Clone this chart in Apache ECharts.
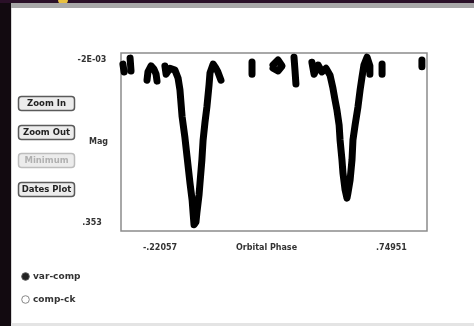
<!DOCTYPE html>
<html><head><meta charset="utf-8">
<script src="https://cdn.jsdelivr.net/npm/echarts@6/dist/echarts.min.js"></script>
<style>html,body{margin:0;padding:0;background:#120a10;}#c{width:474px;height:326px;}</style>
</head><body><div id="c"></div>
<script>
// Light curve samples (null = gap between observing runs)
var phase = [-0.376,-0.371,null,-0.346,-0.342,null,
  -0.275,-0.271,-0.258,-0.246,-0.237,-0.233,null,
  -0.200,-0.195,-0.179,-0.158,-0.145,-0.137,-0.128,-0.116,-0.107,-0.095,-0.086,-0.082,-0.078,-0.070,-0.066,-0.057,-0.053,-0.045,-0.040,-0.032,-0.024,-0.015,-0.011,0.002,0.014,0.022,0.035,null,
  0.165,0.165,null,
  0.253,0.274,0.291,0.274,0.253,null,
  0.341,0.345,0.349,null,
  0.416,0.425,0.442,0.458,0.475,0.492,0.504,0.513,0.521,0.530,0.534,0.542,0.546,0.555,0.563,0.567,0.576,0.584,0.588,0.597,0.609,0.618,0.626,0.634,0.647,0.659,0.659,null,
  0.710,0.710,null,
  0.877,0.877];
var mag = [0.008,0.025,null,-0.005,0.023,null,
  0.043,0.025,0.012,0.019,0.030,0.045,null,
  0.012,0.030,0.017,0.021,0.038,0.064,0.122,0.168,0.210,0.266,0.303,0.331,0.357,0.351,0.331,0.292,0.266,0.216,0.173,0.134,0.101,0.053,0.027,0.008,0.017,0.025,0.043,null,
  0.0035,0.030,null,
  0.010,-0.001,0.012,0.023,0.017,null,
  -0.007,0.021,0.051,null,
  0.004,0.030,0.010,0.025,0.017,0.032,0.060,0.086,0.108,0.140,0.173,0.216,0.244,0.281,0.299,0.288,0.260,0.216,0.173,0.140,0.101,0.064,0.036,0.010,-0.007,0.012,0.030,null,
  0.008,0.030,null,
  -0.001,0.014];
var xTickValues = [-0.22057, 0.74951];
var xTickLabels = ['-.22057', '.74951'];
var yTickValues = [-0.002, 0.353];
var yTickLabels = ['-2E-03', '.353'];
var xTitle = 'Orbital Phase';
var yTitle = 'Mag';
var buttons = ['Zoom In', 'Zoom Out', 'Minimum', 'Dates Plot'];
var radios = ['var-comp', 'comp-ck'];

var data = phase.map(function(p, i){ return p === null ? ['-','-'] : [p, mag[i]]; });
function pick(vals, labels){ return function(v){ var b=0; for(var i=1;i<vals.length;i++){ if(Math.abs(vals[i]-v)<Math.abs(vals[b]-v)) b=i;} return labels[b]; }; }

var font = 'DejaVu Sans';
var btnY = [96, 125, 153, 182];
var g = [
  {type:'rect', shape:{x:0,y:0,width:474,height:3}, style:{fill:'#2a1028'}},
  {type:'circle', shape:{cx:63,cy:0,r:5}, style:{fill:'#e8c040'}},
  {type:'rect', shape:{x:11,y:3,width:463,height:5}, style:{fill:'#a8a8a8'}},
  {type:'rect', shape:{x:11,y:8,width:463,height:315}, style:{fill:'#ffffff'}},
  {type:'rect', shape:{x:11,y:8,width:1,height:315}, style:{fill:'#d8d8d8'}},
  {type:'rect', shape:{x:11,y:323,width:463,height:3}, style:{fill:'#e4e4e4'}}
];
buttons.forEach(function(b, i){
  var dis = (b === 'Minimum');
  g.push({type:'rect', shape:{x:18.5,y:btnY[i]+0.5,width:56,height:14,r:3},
    style:{fill:'#ececec', stroke: dis ? '#bdbdbd' : '#5a5a5a', lineWidth:1.5}});
  g.push({type:'text', x:46.5, y:btnY[i]+7.5, style:{text:b, fill: dis ? '#b0b0b0' : '#222', font:'bold 8.5px "'+font+'"', align:'center', verticalAlign:'middle'}});
});
radios.forEach(function(r, i){
  var cy = i === 0 ? 276.5 : 299.5;
  g.push({type:'circle', shape:{cx:25.5,cy:cy,r:3.8}, style:{fill: i===0 ? '#222' : '#fff', stroke: i===0 ? '#555' : '#888', lineWidth:1}});
  g.push({type:'text', x:33, y:cy, style:{text:r, fill:'#333', font:'bold 9px "'+font+'"', align:'left', verticalAlign:'middle'}});
});

var chart = echarts.init(document.getElementById('c'), null, {renderer:'canvas'});
chart.setOption({
  animation:false,
  backgroundColor:'transparent',
  graphic:{elements:g},
  grid:{left:121, top:53, width:306, height:178, show:true, borderColor:'#8c8c8c', borderWidth:1.5, backgroundColor:'#fff', z:3},
  xAxis:{type:'value', min:-0.384, max:0.8983, axisLine:{show:false}, axisTick:{show:false}, splitLine:{show:false},
    axisLabel:{customValues:xTickValues, formatter:pick(xTickValues,xTickLabels), margin:13, color:'#333', fontFamily:font, fontWeight:'bold', fontSize:8},
    name:xTitle, nameLocation:'middle', nameGap:13, nameMoveOverlap:false, nameTextStyle:{color:'#333', fontFamily:font, fontWeight:'bold', fontSize:8, padding:[0,15,0,0]}},
  yAxis:{type:'value', inverse:true, min:-0.01611, max:0.3704, axisLine:{show:false}, axisTick:{show:false}, splitLine:{show:false},
    axisLabel:{customValues:yTickValues, formatter:pick(yTickValues,yTickLabels), margin:29, align:'center', color:'#333', fontFamily:font, fontWeight:'bold', fontSize:8},
    name:yTitle, nameLocation:'middle', nameRotate:0, nameGap:13, nameMoveOverlap:false, nameTextStyle:{color:'#333', fontFamily:font, fontWeight:'bold', fontSize:8}},
  series:[{type:'line', data:data, showSymbol:false, connectNulls:false, z:5,
    lineStyle:{color:'#000', width:7, cap:'round', join:'round'}}]
});
</script></body></html>
